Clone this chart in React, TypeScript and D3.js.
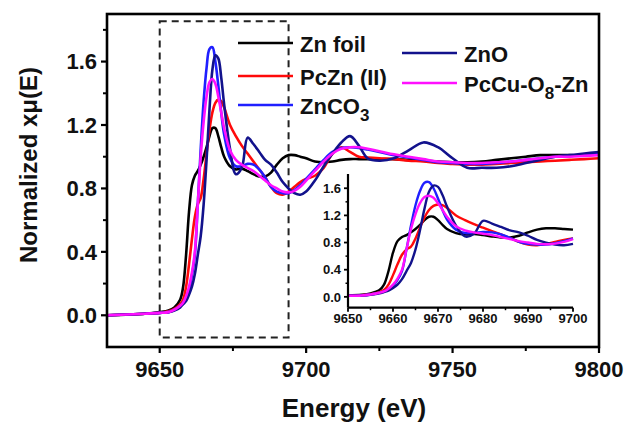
import React from 'react';
import * as d3 from 'd3';

const energy = [9632, 9645, 9650, 9653, 9655, 9657, 9658, 9659, 9660, 9661, 9662, 9663, 9664, 9665, 9666, 9667, 9668, 9669, 9670, 9671, 9672, 9674, 9676, 9678, 9680, 9682, 9684, 9686, 9688, 9690, 9692, 9694, 9696, 9698, 9700, 9703, 9706, 9709, 9712, 9715, 9718, 9721, 9725, 9730, 9735, 9740, 9745, 9750, 9755, 9760, 9765, 9770, 9775, 9780, 9785, 9790, 9795, 9800];

const znFoil = [0.0, 0.01, 0.02, 0.03, 0.05, 0.1, 0.18, 0.38, 0.65, 0.82, 0.88, 0.91, 0.95, 1.0, 1.06, 1.13, 1.18, 1.18, 1.13, 1.06, 1.0, 0.94, 0.92, 0.925, 0.91, 0.89, 0.875, 0.875, 0.9, 0.95, 0.99, 1.01, 1.01, 1.0, 0.99, 0.97, 0.965, 0.97, 0.98, 0.985, 0.985, 0.985, 0.985, 0.985, 0.98, 0.975, 0.97, 0.965, 0.965, 0.97, 0.98, 0.99, 1.0, 1.01, 1.01, 1.01, 1.01, 1.02];
const pcZn = [0.0, 0.01, 0.015, 0.025, 0.04, 0.07, 0.1, 0.18, 0.32, 0.48, 0.62, 0.7, 0.74, 0.86, 1.02, 1.17, 1.28, 1.34, 1.36, 1.35, 1.31, 1.2, 1.13, 1.07, 1.02, 0.97, 0.92, 0.87, 0.81, 0.77, 0.76, 0.78, 0.81, 0.84, 0.86, 0.88, 0.93, 1.02, 1.06, 1.03, 1.0, 0.995, 0.99, 0.985, 0.975, 0.97, 0.96, 0.955, 0.95, 0.95, 0.955, 0.96, 0.965, 0.97, 0.975, 0.98, 0.985, 0.99];
const znCO3 = [0, 0.01, 0.015, 0.02, 0.035, 0.06, 0.08, 0.11, 0.16, 0.25, 0.38, 0.7, 1.05, 1.35, 1.56, 1.68, 1.69, 1.6, 1.45, 1.28, 1.14, 0.99, 0.94, 0.94, 0.955, 0.95, 0.92, 0.87, 0.81, 0.78, 0.77, 0.77, 0.79, 0.82, 0.86, 0.92, 0.98, 1.03, 1.055, 1.06, 1.055, 1.045, 1.03, 1.01, 0.995, 0.98, 0.965, 0.96, 0.955, 0.955, 0.96, 0.97, 0.98, 0.99, 1.0, 1.005, 1.01, 1.02];
const znO = [0, 0.01, 0.015, 0.02, 0.03, 0.05, 0.07, 0.09, 0.13, 0.18, 0.26, 0.38, 0.5, 0.7, 0.98, 1.3, 1.55, 1.64, 1.62, 1.5, 1.33, 1.05, 0.89, 0.93, 1.12, 1.08, 1.03, 0.98, 0.95, 0.9, 0.84, 0.8, 0.77, 0.76, 0.78, 0.85, 0.94, 1.02, 1.09, 1.13, 1.07, 0.99, 0.975, 0.99, 1.04, 1.09, 1.06, 0.99, 0.93, 0.93, 0.93, 0.94, 0.96, 0.98, 1.0, 1.01, 1.02, 1.03];
const pcCuO8Zn = [0, 0.01, 0.015, 0.02, 0.035, 0.06, 0.08, 0.12, 0.18, 0.27, 0.4, 0.7, 1.0, 1.22, 1.38, 1.47, 1.49, 1.46, 1.38, 1.28, 1.18, 1.04, 0.98, 0.95, 0.93, 0.91, 0.88, 0.85, 0.82, 0.8, 0.78, 0.775, 0.785, 0.81, 0.85, 0.91, 0.97, 1.02, 1.05, 1.06, 1.06, 1.05, 1.035, 1.015, 1.0, 0.985, 0.97, 0.965, 0.96, 0.96, 0.965, 0.97, 0.98, 0.99, 1.0, 1.0, 1.005, 1.01];

const seriesNames = ['Zn foil', 'PcZn (II)', 'ZnCO3', 'ZnO', 'PcCu-O8-Zn'];
const seriesValues = [znFoil, pcZn, znCO3, znO, pcCuO8Zn];
const seriesColors = ['#000000', '#ff0a0a', '#1f1fff', '#12128c', '#ff10ff'];

const mainXTicks = [9650, 9700, 9750, 9800];
const mainXMinor = [9675, 9725, 9775];
const mainYTicks = [0, 0.4, 0.8, 1.2, 1.6];
const mainYMinor = [0.2, 0.6, 1.0, 1.4, 1.8];
const insetXTicks = [9650, 9660, 9670, 9680, 9690, 9700];
const insetXMinor = [9655, 9665, 9675, 9685, 9695];
const insetYTicks = [0, 0.4, 0.8, 1.2, 1.6];
const insetYMinor = [0.2, 0.6, 1.0, 1.4];

const FONT = '"Liberation Sans", Arial, Helvetica, sans-serif';

export default function App() {
  const W = 626, H = 426;
  const x = d3.scaleLinear().domain([9632, 9800]).range([107, 599]);
  const y = d3.scaleLinear().domain([-0.2, 1.9]).range([347, 14]);
  const xi = d3.scaleLinear().domain([9650, 9700]).range([348, 573]);
  const yi = d3.scaleLinear().domain([-0.16, 1.81]).range([307.7, 174]);

  const mkLine = (sx: any, sy: any) =>
    d3.line<[number, number]>().x(d => sx(d[0])).y(d => sy(d[1])).curve(d3.curveCatmullRom.alpha(0.5));

  const mainLine = mkLine(x, y);
  const insetLine = mkLine(xi, yi);

  const pts = (vals: number[]) => energy.map((e, i) => [e, vals[i]] as [number, number]);
  const insetPts = (vals: number[]) => pts(vals).filter(p => p[0] >= 9650 && p[0] <= 9700);

  const fmt = d3.format('.1f');
  const [x0, x1] = x.range();
  const [yb, yt] = y.range();

  const legendRows = [
    { i: 0, lx: 238, ly: 43 },
    { i: 1, lx: 238, ly: 76 },
    { i: 2, lx: 238, ly: 105 },
    { i: 3, lx: 402, ly: 53 },
    { i: 4, lx: 402, ly: 83 },
  ];

  const renderLabel = (name: string) => {
    if (name === 'ZnCO3') {
      return (<>ZnCO<tspan dy={7} fontSize={17}>3</tspan></>);
    }
    if (name === 'PcCu-O8-Zn') {
      return (<>PcCu-O<tspan dy={7} fontSize={17}>8</tspan><tspan dy={-7}>-Zn</tspan></>);
    }
    return name;
  };

  return (
    <svg width={W} height={H} style={{ position: 'absolute', left: 0, top: 0, background: '#fff' }} fontFamily={FONT} fontWeight="bold">
      <rect x={0} y={0} width={W} height={H} fill="#fff" />
      {/* dashed box */}
      <rect x={x(9650)} y={y(1.855)} width={x(9694) - x(9650)} height={y(-0.14) - y(1.855)} fill="none" stroke="#222" strokeWidth={2} strokeDasharray="7,5" />

      {/* main curves */}
      <g fill="none" strokeWidth={2.6} strokeLinejoin="round">
        {seriesValues.map((v, i) => (
          <path key={i} d={mainLine(pts(v)) || ''} stroke={seriesColors[i]} />
        ))}
      </g>

      {/* frame */}
      <rect x={x0} y={yt} width={x1 - x0} height={yb - yt} fill="none" stroke="#000" strokeWidth={2.6} />

      {/* main x ticks */}
      {mainXTicks.map(t => (
        <g key={t}>
          <line x1={x(t)} x2={x(t)} y1={yb} y2={yb + 6} stroke="#000" strokeWidth={2.2} />
          <text x={x(t)} y={377} textAnchor="middle" fontSize={22} fill="#111">{t}</text>
        </g>
      ))}
      {mainXMinor.map(t => (
        <line key={t} x1={x(t)} x2={x(t)} y1={yb} y2={yb + 4} stroke="#000" strokeWidth={2} />
      ))}
      {mainYTicks.map(t => (
        <g key={t}>
          <line x1={x0 - 6} x2={x0} y1={y(t)} y2={y(t)} stroke="#000" strokeWidth={2.2} />
          <text x={97} y={y(t)} dy="0.36em" textAnchor="end" fontSize={22} fill="#111">{fmt(t)}</text>
        </g>
      ))}
      {mainYMinor.map(t => (
        <line key={t} x1={x0 - 4} x2={x0} y1={y(t)} y2={y(t)} stroke="#000" strokeWidth={2} />
      ))}

      {/* axis titles */}
      <text x={354} y={417} textAnchor="middle" fontSize={26} fill="#111">Energy (eV)</text>
      <text transform="translate(37,165) rotate(-90)" textAnchor="middle" fontSize={24} fill="#111">Normalized xμ(E)</text>

      {/* legend */}
      {legendRows.map(r => (
        <g key={r.i}>
          <line x1={r.lx} x2={r.lx + 55} y1={r.ly} y2={r.ly} stroke={seriesColors[r.i]} strokeWidth={2.6} />
          <text x={r.lx + 62} y={r.ly + 9} fontSize={22} fill="#111">{renderLabel(seriesNames[r.i])}</text>
        </g>
      ))}

      {/* inset */}
      <g fill="none" strokeWidth={2.4} strokeLinejoin="round">
        {seriesValues.map((v, i) => (
          <path key={i} d={insetLine(insetPts(v)) || ''} stroke={seriesColors[i]} />
        ))}
      </g>
      <line x1={xi.range()[0]} x2={xi.range()[1]} y1={yi.range()[0]} y2={yi.range()[0]} stroke="#000" strokeWidth={2.2} />
      <line x1={xi.range()[0]} x2={xi.range()[0]} y1={yi.range()[0]} y2={yi.range()[1]} stroke="#000" strokeWidth={2.2} />
      {insetXTicks.map(t => (
        <g key={t}>
          <line x1={xi(t)} x2={xi(t)} y1={yi.range()[0]} y2={yi.range()[0] + 4} stroke="#000" strokeWidth={1.8} />
          <text x={xi(t)} y={323} textAnchor="middle" fontSize={13} fill="#111">{t}</text>
        </g>
      ))}
      {insetXMinor.map(t => (
        <line key={t} x1={xi(t)} x2={xi(t)} y1={yi.range()[0]} y2={yi.range()[0] + 2.5} stroke="#000" strokeWidth={1.5} />
      ))}
      {insetYTicks.map(t => (
        <g key={t}>
          <line x1={xi.range()[0] - 4} x2={xi.range()[0]} y1={yi(t)} y2={yi(t)} stroke="#000" strokeWidth={1.8} />
          <text x={341} y={yi(t)} dy="0.36em" textAnchor="end" fontSize={13} fill="#111">{fmt(t)}</text>
        </g>
      ))}
      {insetYMinor.map(t => (
        <line key={t} x1={xi.range()[0] - 2.5} x2={xi.range()[0]} y1={yi(t)} y2={yi(t)} stroke="#000" strokeWidth={1.5} />
      ))}
    </svg>
  );
}
